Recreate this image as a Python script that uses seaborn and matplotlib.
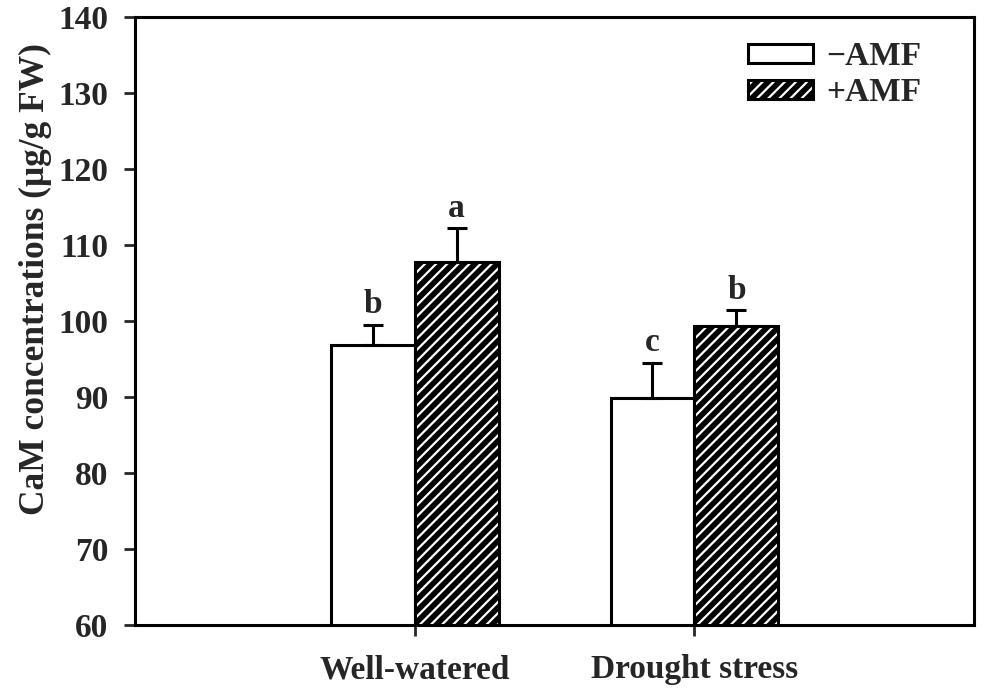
import matplotlib
matplotlib.use('Agg')
import matplotlib.pyplot as plt
from matplotlib.patches import Patch, Rectangle
from matplotlib.legend_handler import HandlerTuple
import numpy as np
import pandas as pd
import seaborn as sns

# data
conditions = ['Well-watered', 'Drought stress']
treatments = ['\u2212AMF', '+AMF']
cam_minus = [96.8, 89.9]
cam_plus = [107.8, 99.3]
se_minus = [2.7, 4.6]
se_plus = [4.4, 2.1]
letters_minus = ['b', 'c']
letters_plus = ['a', 'b']

df = pd.DataFrame({
    'condition': conditions * 2,
    'treatment': [treatments[0]] * 2 + [treatments[1]] * 2,
    'cam': cam_minus + cam_plus,
    'se': se_minus + se_plus,
    'letter': letters_minus + letters_plus,
})

FS = 24

sns.set_style('ticks')
plt.rcParams['font.family'] = ['Liberation Serif', 'DejaVu Serif']
plt.rcParams['font.weight'] = 'bold'
plt.rcParams['hatch.linewidth'] = 1.6

fig = plt.figure(figsize=(9.85, 6.93), dpi=100)
ax = fig.add_axes([0.137, 0.098, 0.852, 0.8775])

sns.barplot(data=df, x='condition', y='cam', hue='treatment',
            order=conditions, hue_order=treatments,
            width=0.6, errorbar=None, legend=False, ax=ax)

bars = ax.patches[:4]
# seaborn draws hue levels in order: first -AMF bars, then +AMF bars
for i, bar in enumerate(bars):
    row = df.iloc[i]
    x0, w = bar.get_x(), bar.get_width()
    y0, h = bar.get_y(), bar.get_height()
    if i < 2:
        bar.set_facecolor('white')
        bar.set_edgecolor('black')
        bar.set_linewidth(2.2)
    else:
        bar.set_facecolor('black')
        bar.set_edgecolor('white')
        bar.set_hatch('///')
        bar.set_linewidth(0)
        ax.add_patch(Rectangle((x0, y0), w, h, fill=False,
                               edgecolor='black', linewidth=2.2, zorder=3))
    xc = x0 + w / 2
    top = y0 + h
    ax.errorbar(xc, top, yerr=[[0], [row.se]], fmt='none', ecolor='black',
                elinewidth=2.2, capsize=7, capthick=2.2, zorder=4)
    ax.text(xc, top + row.se + 0.6, row.letter, ha='center', va='bottom',
            fontsize=FS, fontweight='bold')

ax.set_xlim(-1, 2)
ax.set_ylim(60, 140)
ax.set_yticks(np.arange(60, 141, 10))
ax.set_xlabel('')
ax.set_ylabel('CaM concentrations (\u03bcg/g FW)', fontsize=25.5, fontweight='bold')
ax.yaxis.set_label_coords(-0.099, 0.569)
ax.tick_params(axis='both', labelsize=FS, width=2, length=8, direction='out')
ax.tick_params(axis='x', pad=13)
ax.tick_params(axis='y', pad=11)
for lab in ax.get_xticklabels() + ax.get_yticklabels():
    lab.set_fontweight('bold')
for sp in ax.spines.values():
    sp.set_linewidth(2.2)
    sp.set_color('black')

h_minus = Patch(facecolor='white', edgecolor='black', linewidth=2.2)
h_plus_fill = Patch(facecolor='black', edgecolor='white', hatch='///', linewidth=0)
h_plus_edge = Patch(facecolor='none', edgecolor='black', linewidth=2.2)
leg = ax.legend([h_minus, (h_plus_fill, h_plus_edge)], treatments,
                handler_map={tuple: HandlerTuple(ndivide=1)},
                loc='upper left', bbox_to_anchor=(0.731, 0.960),
                borderaxespad=0, borderpad=0,
                frameon=False, fontsize=FS, handlelength=1.93, handleheight=0.47,
                handletextpad=0.4, labelspacing=0.15)
for t in leg.get_texts():
    t.set_fontweight('bold')

fig.savefig('out.png', dpi=100)
